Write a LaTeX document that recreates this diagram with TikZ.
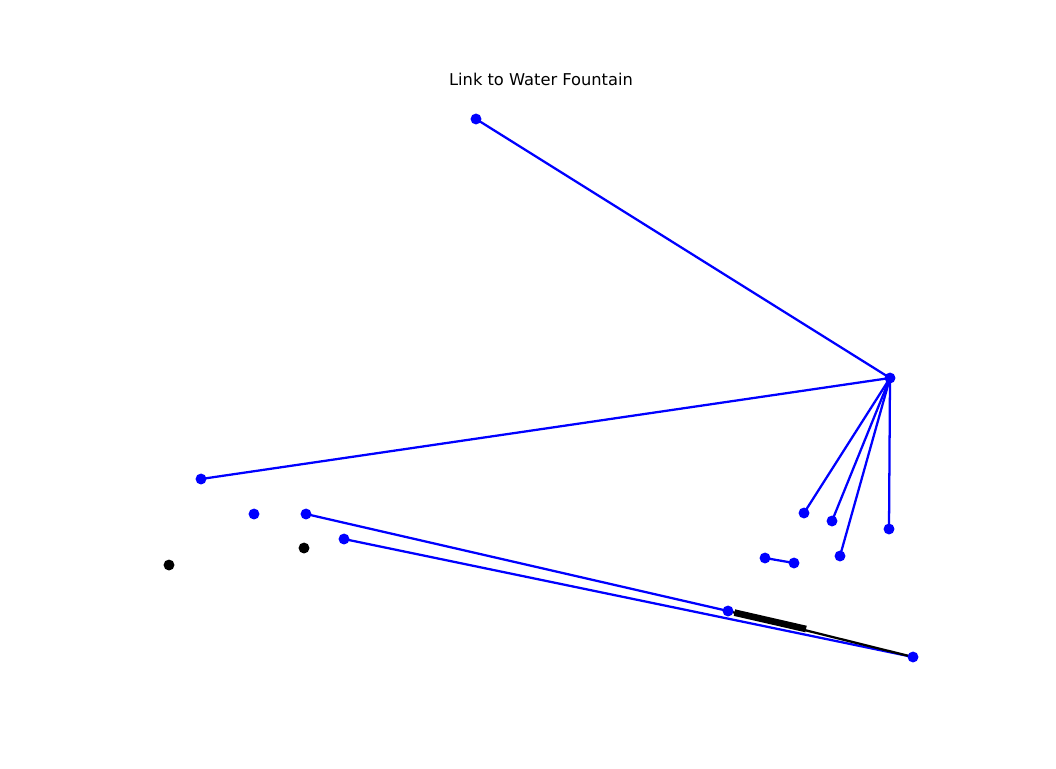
\documentclass[tikz,border=0pt]{standalone}
\usepackage{fontspec}
\setmainfont{DejaVu Sans}
\usetikzlibrary{positioning}
\usetikzlibrary{calc}
\usetikzlibrary{backgrounds}

\tikzset{
  spot/.style={circle, fill=blue, inner sep=0pt, minimum size=8.2pt},
  blackspot/.style={circle, fill=black, inner sep=0pt, minimum size=8.2pt},
  link/.style={draw=blue, line width=1.7pt},
  cable/.style={draw=black, line width=1.7pt}
}

\begin{document}
\begin{tikzpicture}[x=0.75pt, y=-0.75pt]
  \useasboundingbox (0, 0) rectangle (1056, 768);

  \node[font=\fontsize{12.2}{14}\selectfont] (title) at (541, 79) {Link to Water Fountain};

  % blue nodes
  \foreach \name/\px/\py in {top/476/119, hub/890/378, left/201/479,
      b1/254/514, b2/306/514, b3/344/539,
      r1/804/513, r2/832/521, r3/840/556, r4/889/529,
      p1/765/558, p2/794/563, m/728/611, e/913/657} {
    \node[spot] (\name) at (\px, \py) {};
  }
  % black nodes
  \node[blackspot] (k1) at (304, 548) {};
  \node[blackspot] (k2) at (169, 565) {};

  \begin{pgfonlayer}{background}
    \draw[link] (top.center) -- (hub.center);
    \draw[link] (hub.center) -- (left.center);
    \foreach \t in {r1, r2, r3, r4} {
      \draw[link] (hub.center) -- (\t.center);
    }
    \draw[link] (p1.center) -- (p2.center);
    \draw[link] (b2.center) -- (m.center);
    \draw[link] (b3.center) -- (e.center);

    \draw[cable] (m.center) -- (e.center);
    \coordinate (stub) at (806, 629);
    \draw[black, line width=5pt] ($(m.center)!0.035!(e.center)$) -- (stub);
  \end{pgfonlayer}
\end{tikzpicture}
\end{document}
